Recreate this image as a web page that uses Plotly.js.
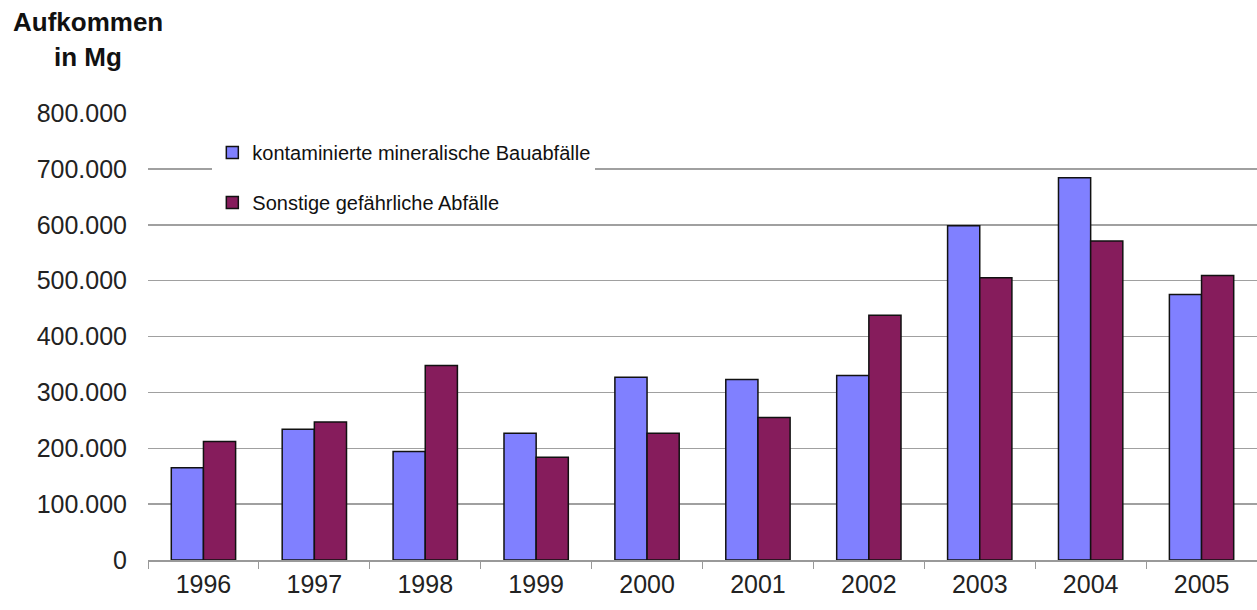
<!DOCTYPE html>
<html>
<head>
<meta charset="utf-8">
<script src="https://cdn.plot.ly/plotly-3.0.1.min.js"></script>
<style>html,body{margin:0;padding:0;background:#fff;}#chart{width:1257px;height:610px;}</style>
</head>
<body>
<div id="chart"></div>
<script>
const years = ['1996','1997','1998','1999','2000','2001','2002','2003','2004','2005'];
const kontaminiert = [165000, 234000, 194000, 227000, 327000, 323000, 330000, 598000, 684000, 475000];
const sonstige = [212000, 247000, 348000, 184000, 227000, 255000, 438000, 505000, 571000, 509000];
const seriesNames = ['kontaminierte mineralische Bauabfälle', 'Sonstige gefährliche Abfälle'];
const yTicks = [0, 100000, 200000, 300000, 400000, 500000, 600000, 700000, 800000];

const font = 'Liberation Sans, Arial, sans-serif';
const traces = [
  {type:'bar', x:years, y:kontaminiert, name:seriesNames[0], legendgroup:'a',
   marker:{color:'#8080ff', line:{color:'#111', width:1.5}}},
  {type:'bar', x:years, y:sonstige, name:seriesNames[1], legendgroup:'b',
   marker:{color:'#861c5c', line:{color:'#111', width:1.5}}}
];
const layout = {
  width:1257, height:610,
  margin:{l:148, r:0, t:113, b:50},
  paper_bgcolor:'#fff', plot_bgcolor:'#fff',
  separators:',.',
  barmode:'group', bargap:0.42, bargroupgap:0,
  font:{family:font, color:'#111'},
  showlegend:true,
  legend:{x:0.058, y:0.955, xanchor:'left', yanchor:'top', bgcolor:'#fff',
    font:{size:20, family:font, color:'#111'}, traceorder:'grouped', tracegroupgap:21,
    itemwidth:30},
  xaxis:{type:'category', range:[-0.5, 9.5], tickson:'boundaries', ticks:'outside', ticklen:7,
    tickcolor:'#999', showline:true, linecolor:'#999', linewidth:1.5, showgrid:false,
    tickfont:{size:25, family:font, color:'#222'}, ticklabelstandoff:1},
  yaxis:{range:[0, 800000], tickvals:yTicks, tickformat:',d', showgrid:true, gridcolor:'#a0a0a0',
    gridwidth:1.5, zeroline:false, showline:false, ticks:'', ticklabelstandoff:20,
    tickfont:{size:25, family:font, color:'#222'}},
  annotations:[
    {text:'<b>Aufkommen</b>', xref:'paper', yref:'paper', x:-0.054, y:(560-22)/447, xanchor:'center', yanchor:'middle', showarrow:false, font:{size:26, family:font, color:'#111'}},
    {text:'<b>in Mg</b>', xref:'paper', yref:'paper', x:-0.054, y:(560-57)/447, xanchor:'center', yanchor:'middle', showarrow:false, font:{size:26, family:font, color:'#111'}}
  ]
};
Plotly.newPlot('chart', traces, layout, {displayModeBar:false, staticPlot:true});
</script>
</body>
</html>
